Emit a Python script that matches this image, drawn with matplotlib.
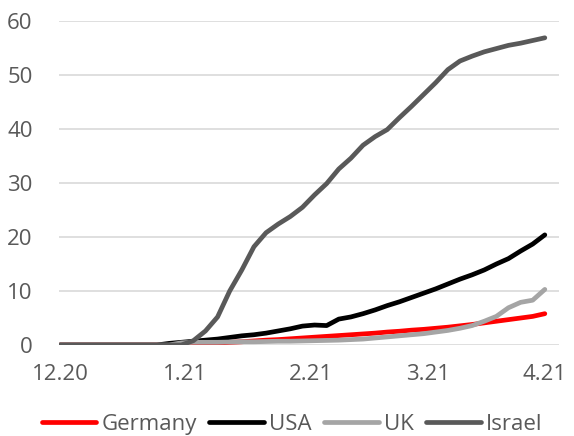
import matplotlib.pyplot as plt

# days since the first date on the axis (every 3rd day)
days = list(range(0, 121, 3))

germany = [0, 0, 0, 0, 0, 0, 0, 0, 0, 0, 0,
           0.1, 0.2, 0.35, 0.5, 0.6, 0.75, 0.9, 1.0, 1.15, 1.3,
           1.45, 1.6, 1.75, 1.9, 2.05, 2.2, 2.4, 2.55, 2.75, 2.9,
           3.1, 3.3, 3.55, 3.8, 4.1, 4.4, 4.7, 5.0, 5.3, 5.8]
usa = [0, 0, 0, 0, 0, 0, 0, 0, 0, 0.3, 0.5,
       0.7, 0.9, 1.1, 1.4, 1.7, 1.9, 2.2, 2.6, 3.0, 3.5,
       3.7, 3.6, 4.8, 5.2, 5.8, 6.5, 7.3, 8.0, 8.8, 9.6,
       10.4, 11.3, 12.2, 13.0, 13.9, 15.0, 16.0, 17.4, 18.7, 20.4]
uk = [0, 0, 0, 0, 0, 0, 0, 0, 0, 0, 0.4,
      0.5, 0.5, 0.5, 0.55, 0.6, 0.6, 0.65, 0.7, 0.7, 0.75,
      0.8, 0.85, 0.9, 1.0, 1.1, 1.3, 1.5, 1.7, 1.9, 2.1,
      2.4, 2.7, 3.1, 3.6, 4.4, 5.3, 6.9, 7.9, 8.3, 10.3]
israel = [0, 0, 0, 0, 0, 0, 0, 0, 0, 0, 0,
          0.8, 2.6, 5.2, 10.0, 13.9, 18.2, 20.8, 22.4, 23.8, 25.5,
          27.8, 29.9, 32.6, 34.6, 37.0, 38.6, 39.9, 42.1, 44.2, 46.4,
          48.6, 51.0, 52.6, 53.5, 54.3, 54.9, 55.5, 55.9, 56.4, 56.9]

tick_days = [0, 31, 62, 91, 120]
tick_labels = ["12.20", "1.21", "2.21", "3.21", "4.21"]

plt.rcParams["font.family"] = ["Open Sans", "DejaVu Sans"]

fig = plt.figure(figsize=(5.74, 4.36), dpi=100)
ax = fig.add_axes([0.1028, 0.2087, 0.871, 0.743])

series = [("Germany", germany, "#ff0000"),
          ("USA", usa, "#000000"),
          ("UK", uk, "#a5a5a5"),
          ("Israel", israel, "#595959")]
for name, vals, color in series:
    ax.plot(days, vals, color=color, lw=3.4, label=name,
            solid_capstyle="round", solid_joinstyle="round")

ax.set_xlim(-0.25, 123.5)
ax.set_ylim(0, 60)
ax.set_yticks(range(0, 61, 10))
ax.set_xticks(tick_days)
ax.set_xticklabels(tick_labels)
ax.grid(True, axis="y", color="#d9d9d9", lw=1.2)
ax.set_axisbelow(True)
for s in ax.spines.values():
    s.set_visible(False)
ax.tick_params(length=0, labelsize=16, colors="#595959")
ax.tick_params(axis="y", pad=19)
ax.tick_params(axis="x", pad=14)

leg = fig.legend(loc="center", bbox_to_anchor=(0.509, 0.027), ncol=4,
                 frameon=False, fontsize=16, handlelength=2.45,
                 handletextpad=0.25, columnspacing=0.55)
for t in leg.get_texts():
    t.set_color("#595959")

fig.savefig("out.png", dpi=100)
